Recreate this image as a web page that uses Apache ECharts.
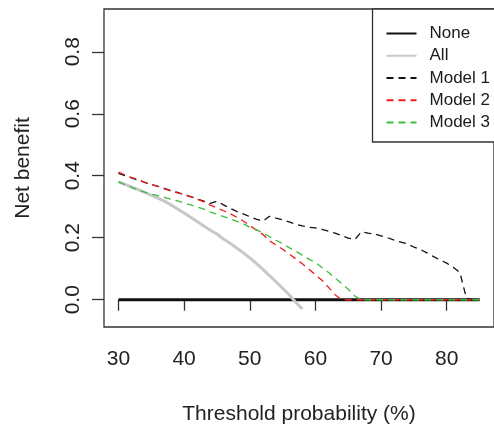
<!DOCTYPE html>
<html>
<head>
<meta charset="utf-8">
<script src="https://cdn.jsdelivr.net/npm/echarts@6/dist/echarts.min.js"></script>
<style>
  html, body { margin: 0; padding: 0; background: #fff; }
  #main { width: 494px; height: 430px; }
</style>
</head>
<body>
<div id="main"></div>
<script>
// threshold probability (%)
var thresholds = [30, 31, 32, 33, 34, 35, 36, 37, 38, 39, 40, 41, 42, 43, 44, 45, 46, 47, 48, 49,
  50, 51, 52, 53, 54, 55, 56, 57, 58, 59, 60, 61, 62, 63, 64, 65, 66, 67, 68, 69,
  70, 71, 72, 73, 74, 75, 76, 77, 78, 79, 80, 81, 82, 83, 84, 85];

var noneNB = [0, 0];
var noneX = [30, 85];

// treat all, only drawn while above the axis floor
var allX = [30, 31, 32, 33, 34, 35, 36, 37, 38, 39, 40, 41, 42, 43, 44, 45, 46, 47, 48, 49,
  50, 51, 52, 53, 54, 55, 56, 57, 58];
var allNB = [0.380, 0.372, 0.364, 0.355, 0.346, 0.337, 0.328, 0.318, 0.306, 0.293, 0.280, 0.266,
  0.252, 0.238, 0.224, 0.212, 0.196, 0.182, 0.167, 0.152, 0.135, 0.117, 0.098, 0.078, 0.058,
  0.037, 0.016, -0.008, -0.030];

var model1 = [0.408, 0.400, 0.393, 0.386, 0.379, 0.372, 0.366, 0.359, 0.352, 0.346, 0.339, 0.333,
  0.325, 0.318, 0.311, 0.318, 0.306, 0.295, 0.285, 0.277, 0.268, 0.260, 0.253, 0.269, 0.263,
  0.258, 0.251, 0.244, 0.238, 0.234, 0.232, 0.227, 0.221, 0.215, 0.207, 0.199, 0.194, 0.219,
  0.215, 0.212, 0.206, 0.200, 0.192, 0.186, 0.180, 0.170, 0.162, 0.151, 0.139, 0.128, 0.118,
  0.105, 0.088, 0.005, 0, 0];

var model2 = [0.412, 0.403, 0.394, 0.388, 0.378, 0.372, 0.366, 0.358, 0.351, 0.345, 0.339, 0.332,
  0.324, 0.316, 0.305, 0.296, 0.287, 0.278, 0.266, 0.254, 0.240, 0.224, 0.211, 0.190, 0.177,
  0.163, 0.148, 0.132, 0.116, 0.099, 0.080, 0.063, 0.040, 0.016, 0, 0, 0, 0, 0, 0,
  0, 0, 0, 0, 0, 0, 0, 0, 0, 0, 0, 0, 0, 0, 0, 0];

var model3 = [0.380, 0.371, 0.362, 0.354, 0.347, 0.341, 0.336, 0.330, 0.324, 0.319, 0.312, 0.306,
  0.299, 0.292, 0.283, 0.276, 0.268, 0.261, 0.253, 0.245, 0.234, 0.226, 0.215, 0.204, 0.192,
  0.181, 0.168, 0.157, 0.144, 0.131, 0.120, 0.104, 0.088, 0.070, 0.052, 0.034, 0.012, 0, 0, 0,
  0, 0, 0, 0, 0, 0, 0, 0, 0, 0, 0, 0, 0, 0, 0, 0];

var xTicks = [30, 40, 50, 60, 70, 80];
var yTicks = [0, 0.2, 0.4, 0.6, 0.8];

function pairs(xs, ys) {
  return xs.map(function (x, i) { return [x, ys[i]]; });
}

var font = '"Liberation Sans", Arial, sans-serif';
var chart = echarts.init(document.getElementById('main'), null, { renderer: 'canvas' });

chart.setOption({
  animation: false,
  backgroundColor: '#ffffff',
  textStyle: { fontFamily: font },
  grid: {
    left: 104, top: 9, width: 395, height: 319,
    show: true, borderColor: '#333', borderWidth: 1.3, backgroundColor: 'transparent'
  },
  legend: {
    orient: 'vertical',
    right: -8, top: 9,
    padding: [16, 12, 11, 13],
    itemWidth: 30, itemHeight: 14, itemGap: 5.25,
    borderColor: '#333', borderWidth: 1.3,
    backgroundColor: '#fff',
    itemStyle: { opacity: 0 },
    textStyle: { fontSize: 17, color: '#1a1a1a', lineHeight: 14, padding: [0, 0, 0, 8], fontFamily: font },
    data: ['None', 'All', 'Model 1', 'Model 2', 'Model 3']
  },
  xAxis: {
    type: 'value',
    min: 27.8, max: 87.2,
    name: 'Threshold probability (%)',
    nameLocation: 'middle',
    nameGap: 77,
    nameTextStyle: { fontSize: 21, color: '#222', fontFamily: font },
    axisLine: { show: false },
    splitLine: { show: false },
    axisTick: { show: true, length: 11, customValues: xTicks, lineStyle: { color: '#333', width: 1.3 } },
    axisLabel: { customValues: xTicks, fontSize: 21, color: '#222', margin: 22, fontFamily: font }
  },
  yAxis: {
    type: 'value',
    min: -0.088, max: 0.938,
    name: 'Net benefit',
    nameLocation: 'middle',
    nameGap: 70,
    nameTextStyle: { fontSize: 21, color: '#222', fontFamily: font },
    axisLine: { show: false },
    splitLine: { show: false },
    axisTick: { show: true, length: 12, customValues: yTicks, lineStyle: { color: '#333', width: 1.3 } },
    axisLabel: {
      customValues: yTicks, rotate: 90, fontSize: 21, color: '#222', margin: 20, fontFamily: font,
      formatter: function (v) { return v.toFixed(1); }
    }
  },
  series: [
    {
      name: 'None', type: 'line', symbol: 'none',
      data: pairs(noneX, noneNB),
      lineStyle: { color: '#111', width: 3 }, itemStyle: { color: '#111' }
    },
    {
      name: 'All', type: 'line', symbol: 'none',
      data: pairs(allX, allNB),
      lineStyle: { color: '#c8c8c8', width: 3 }, itemStyle: { color: '#c8c8c8' }
    },
    {
      name: 'Model 1', type: 'line', symbol: 'none',
      data: pairs(thresholds, model1),
      lineStyle: { color: '#111', width: 1.3, type: [7, 5] }, itemStyle: { color: '#111' }
    },
    {
      name: 'Model 2', type: 'line', symbol: 'none',
      data: pairs(thresholds, model2),
      lineStyle: { color: '#ee1c1c', width: 1.3, type: [7, 5] }, itemStyle: { color: '#ee1c1c' }
    },
    {
      name: 'Model 3', type: 'line', symbol: 'none',
      data: pairs(thresholds, model3),
      lineStyle: { color: '#3dbb3d', width: 1.3, type: [7, 5] }, itemStyle: { color: '#3dbb3d' }
    }
  ]
});
</script>
</body>
</html>
